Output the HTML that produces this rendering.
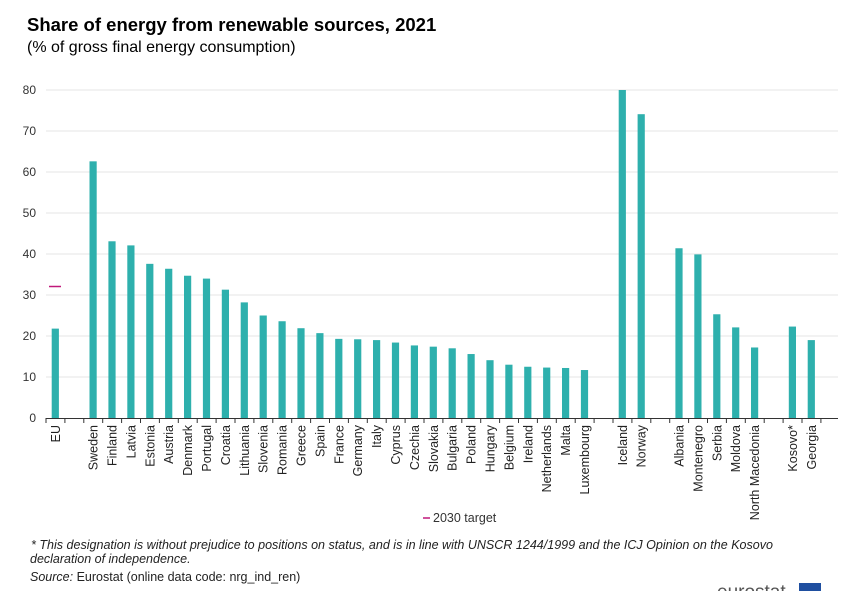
<!DOCTYPE html>
<html><head><meta charset="utf-8"><style>body{margin:0;background:#fff}svg{display:block}</style></head><body>
<svg width="844" height="591" xmlns="http://www.w3.org/2000/svg" font-family="Liberation Sans, sans-serif">
<text x="27" y="31" font-size="18.5" font-weight="bold" fill="#000">Share of energy from renewable sources, 2021</text>
<text x="27" y="52" font-size="16" fill="#000">(% of gross final energy consumption)</text>
<g stroke="#e4e4e4" stroke-width="1">
<line x1="46" x2="838" y1="90" y2="90"/><line x1="46" x2="838" y1="131" y2="131"/><line x1="46" x2="838" y1="172" y2="172"/><line x1="46" x2="838" y1="213" y2="213"/><line x1="46" x2="838" y1="254" y2="254"/><line x1="46" x2="838" y1="295" y2="295"/><line x1="46" x2="838" y1="336" y2="336"/><line x1="46" x2="838" y1="377" y2="377"/>
</g>
<g font-size="12" fill="#333" text-anchor="end">
<text x="36" y="422">0</text><text x="36" y="381">10</text><text x="36" y="340">20</text><text x="36" y="299">30</text><text x="36" y="258">40</text><text x="36" y="217">50</text><text x="36" y="176">60</text><text x="36" y="135">70</text><text x="36" y="94">80</text>
</g>
<g id="bars" fill="#2eb0ad"></g>
<line x1="46" x2="838" y1="418.5" y2="418.5" stroke="#333" stroke-width="1"/>
<g id="ticks" stroke="#333"></g>
<g id="labels" font-size="12.5" fill="#222"></g>
<line x1="49" x2="61" y1="286.5" y2="286.5" stroke="#c0197b" stroke-width="1.5"/>
<line x1="423" x2="430" y1="518" y2="518" stroke="#c0197b" stroke-width="1.5"/>
<text x="433" y="522" font-size="12.5" fill="#333">2030 target</text>
<g font-size="12.5" fill="#222" font-style="italic">
<text x="31" y="549" textLength="742" lengthAdjust="spacingAndGlyphs">* This designation is without prejudice to positions on status, and is in line with UNSCR 1244/1999 and the ICJ Opinion on the Kosovo</text>
<text x="30" y="563">declaration of independence.</text>
<text x="30" y="581"><tspan font-style="italic">Source:</tspan><tspan font-style="normal"> Eurostat (online data code: nrg_ind_ren)</tspan></text>
</g>
<text x="717" y="598" font-size="19" fill="#555">eurostat</text>
<rect x="799" y="583" width="22" height="10" fill="#1f4fa0"/>
<script>
var d=[["EU",0,21.8],["Sweden",2,62.6],["Finland",3,43.1],["Latvia",4,42.1],["Estonia",5,37.6],["Austria",6,36.4],["Denmark",7,34.7],["Portugal",8,34.0],["Croatia",9,31.3],["Lithuania",10,28.2],["Slovenia",11,25.0],["Romania",12,23.6],["Greece",13,21.9],["Spain",14,20.7],["France",15,19.3],["Germany",16,19.2],["Italy",17,19.0],["Cyprus",18,18.4],["Czechia",19,17.7],["Slovakia",20,17.4],["Bulgaria",21,17.0],["Poland",22,15.6],["Hungary",23,14.1],["Belgium",24,13.0],["Ireland",25,12.5],["Netherlands",26,12.3],["Malta",27,12.2],["Luxembourg",28,11.7],["Iceland",30,80],["Norway",31,74.1],["Albania",33,41.4],["Montenegro",34,39.9],["Serbia",35,25.3],["Moldova",36,22.1],["North Macedonia",37,17.2],["Kosovo*",39,22.3],["Georgia",40,19.0]];
var ns="http://www.w3.org/2000/svg",b=document.getElementById("bars"),t=document.getElementById("ticks"),l=document.getElementById("labels");
function el(n,a,p,tx){var e=document.createElementNS(ns,n);for(var k in a)e.setAttribute(k,a[k]);if(tx)e.textContent=tx;p.appendChild(e);}
d.forEach(function(r){var cx=55.3+r[1]*18.9,h=r[2]*4.1;
el("rect",{x:cx-3.6,y:418-h,width:7.2,height:h},b);
el("text",{transform:"translate("+(cx+4.5)+",425) rotate(-90)","text-anchor":"end"},l,r[0]);});
for(var i=0;i<=41;i++){var x=46+i*18.9;el("line",{x1:x,x2:x,y1:418,y2:423},t);}
</script>
</svg>
</body></html>
